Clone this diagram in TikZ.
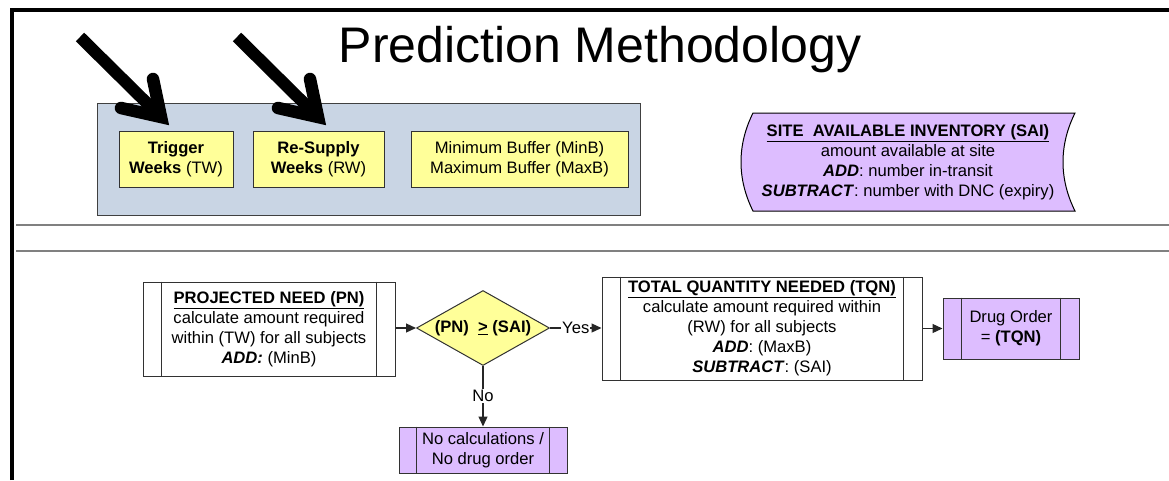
\documentclass[tikz,border=0pt]{standalone}
\usepackage{fontspec}
\setmainfont{Liberation Sans}
\usetikzlibrary{arrows.meta,shapes.geometric,calc}

\definecolor{panelblue}{RGB}{201,213,228}
\definecolor{noteyellow}{RGB}{255,255,153}
\definecolor{lilac}{RGB}{221,189,255}
\definecolor{rulegray}{RGB}{128,128,128}
\definecolor{edge}{RGB}{50,50,50}
\newcommand{\bodyfont}{\fontsize{16.6}{20}\selectfont}

\begin{document}
\begin{tikzpicture}[x=1pt,y=-1pt,
  param/.style={draw=edge, line width=1pt, fill=noteyellow, inner sep=0pt,
    align=center, font=\bodyfont},
  procbox/.style={draw=edge, line width=1pt, fill=white, inner sep=0pt,
    align=center, font=\bodyfont},
  flow/.style={draw=black!85, line width=1.2pt, -{Triangle[length=10pt,width=9pt]}},
  flowlabel/.style={fill=white, inner sep=1pt, font=\bodyfont},
  bigshaft/.style={line width=12pt, line cap=butt},
  bighead/.style={line width=12.5pt, line cap=round, line join=miter}]

\useasboundingbox (0,0) rectangle (1169,480);
\fill[white] (0,0) rectangle (1169,480);

% frame and separator rules
\draw[line width=4pt] (12,480) -- (12,10) -- (1169,10);
\draw[rulegray, line width=2.5pt] (16,225) -- (1169,225);
\draw[rulegray, line width=2.5pt] (16,251) -- (1169,251);

% title
\node[anchor=base, font=\fontsize{50}{60}\selectfont] (title) at (600,62) {Prediction Methodology};

% parameter panel
\node[draw=black!75, line width=1pt, fill=panelblue, minimum width=543pt,
  minimum height=112pt] (panel) at (368.5,159) {};
\node[param, minimum width=114pt, minimum height=56pt] (trig) at (176,159)
  {\textbf{Trigger}\\\textbf{Weeks} (TW)};
\node[param, minimum width=131pt, minimum height=56pt] (resup) at (318.5,159)
  {\textbf{Re-Supply}\\\textbf{Weeks} (RW)};
\node[param, minimum width=217pt, minimum height=56pt] (buffers) at (519.5,159)
  {Minimum Buffer (MinB)\\Maximum Buffer (MaxB)};

% pointer arrows (shaft plus open V head)
\foreach \dx/\nm in {0/p1,157/p2}{
  \coordinate (\nm tail) at (80+\dx,37);
  \coordinate (\nm tip) at (161+\dx,117);
  \draw[bigshaft] (\nm tail) -- (\nm tip);
  \draw[bighead] ($(\nm tip)+(-40,-9)$) -- (\nm tip) -- ($(\nm tip)+(-8,-38)$);
}

% stored data: site available inventory
\path[draw=black, line width=1pt, fill=lilac]
  (753,113) -- (1075,113) .. controls (1059,145) and (1059,179) .. (1075,211)
  -- (753,211) .. controls (737,179) and (737,145) .. (753,113) -- cycle;
\node[align=center, font=\bodyfont, inner sep=0pt] (sai) at (908,162)
  {\underline{\textbf{SITE\ \ AVAILABLE INVENTORY (SAI)}}\\
   amount available at site\\
   \textbf{\textit{ADD}}: number in-transit\\
   \textbf{\textit{SUBTRACT}}: number with DNC (expiry)};

% flowchart
\node[procbox, minimum width=252pt, minimum height=94pt] (pn) at (269,329)
  {\underline{\textbf{PROJECTED NEED (PN)}}\\
   calculate amount required\\
   within (TW) for all subjects\\
   \textbf{\textit{ADD:}} (MinB)};
\node[diamond, draw=edge, line width=1pt, fill=noteyellow, inner sep=0pt,
  shape aspect=1.77, minimum width=133pt, minimum height=75pt, font=\bodyfont]
  (dia) at (483,328) {\textbf{(PN)\ \ \underline{>} (SAI)}};
\node[procbox, minimum width=320pt, minimum height=103pt] (tqn) at (762,328.5)
  {\underline{\textbf{TOTAL QUANTITY NEEDED (TQN)}}\\
   calculate amount required within\\
   (RW) for all subjects\\
   \textbf{\textit{ADD}}: (MaxB)\\
   \textbf{\textit{SUBTRACT}}: (SAI)};
\node[procbox, fill=lilac, minimum width=136pt, minimum height=61pt] (drug) at (1011,328.5)
  {Drug Order\\= \textbf{(TQN)}};
\node[procbox, fill=lilac, minimum width=168pt, minimum height=46pt] (nocalc) at (483,450)
  {No calculations /\\No drug order};

% predefined-process side bars
\foreach \n/\d in {pn/19,tqn/19,drug/19,nocalc/18}{
  \draw[edge, line width=1pt] ([xshift=\d pt]\n.north west) -- ([xshift=\d pt]\n.south west);
  \draw[edge, line width=1pt] ([xshift=-\d pt]\n.north east) -- ([xshift=-\d pt]\n.south east);
}

% connectors
\draw[flow] (pn.east |- dia.west) -- (dia.west);
\draw[flow] (dia.east) -- node[flowlabel] {Yes} (dia.east -| tqn.west);
\draw[flow] (tqn.east) -- (drug.west);
\draw[flow] (dia.south) -- node[flowlabel] {No} (nocalc.north);

\end{tikzpicture}
\end{document}
